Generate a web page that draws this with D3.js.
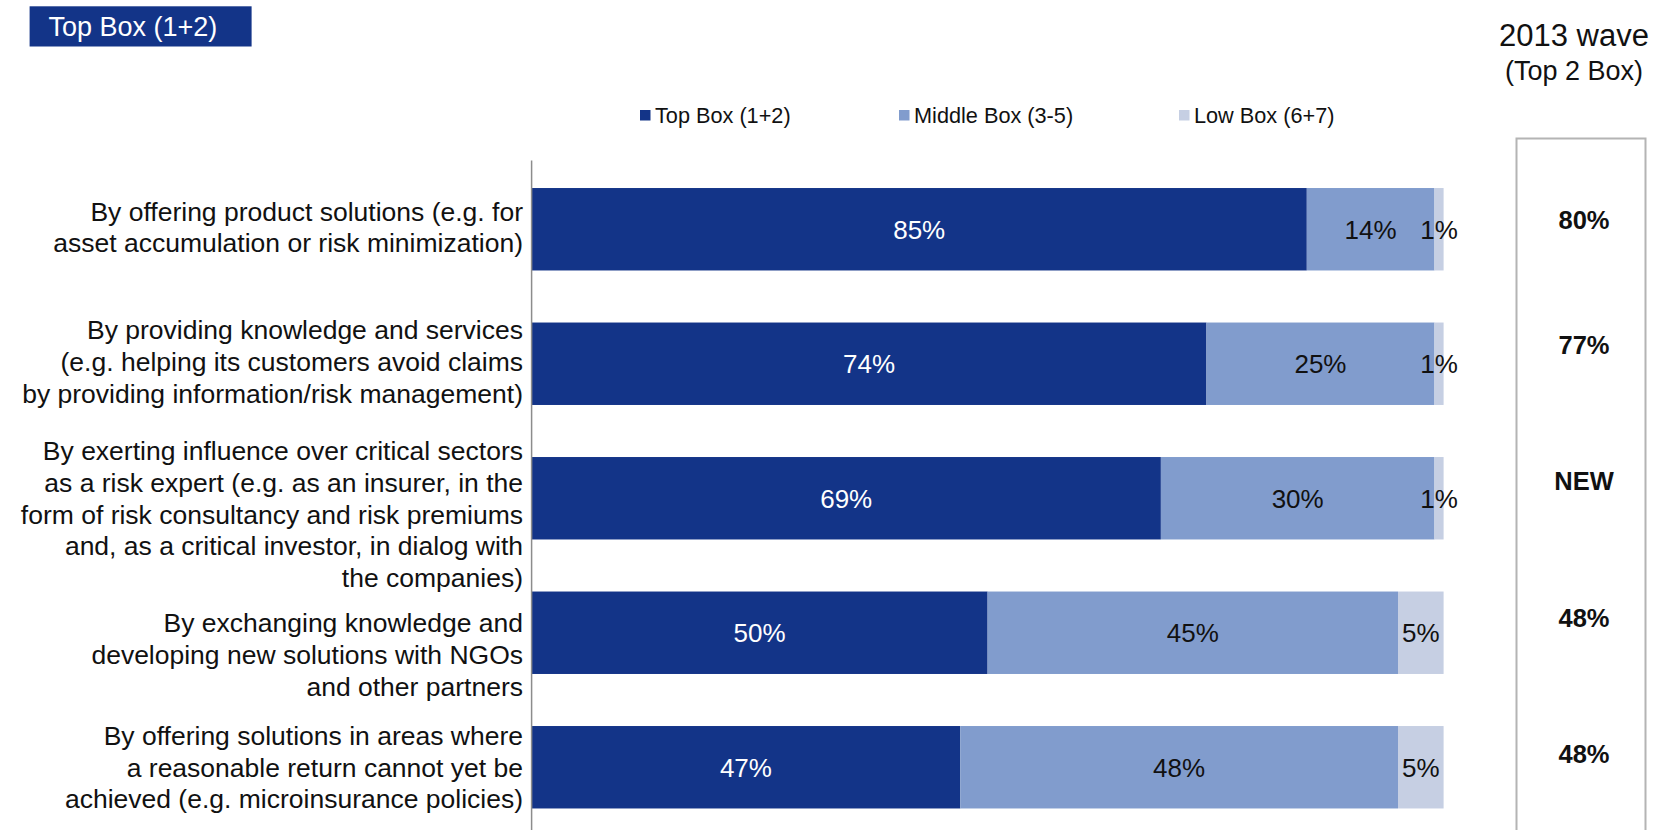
<!DOCTYPE html>
<html>
<head>
<meta charset="utf-8">
<script src="https://cdn.jsdelivr.net/npm/d3@7"></script>
<style>
  html, body { margin: 0; padding: 0; background: #fff; }
  svg { display: block; font-family: "Liberation Sans", Arial, sans-serif; }
</style>
</head>
<body>
<svg id="chart" width="1657" height="830"></svg>
<script>
// Statements, one entry per line of the label
const categories = [
  ["By offering product solutions (e.g. for", "asset accumulation or risk minimization)"],
  ["By providing knowledge and services", "(e.g. helping its customers avoid claims", "by providing information/risk management)"],
  ["By exerting influence over critical sectors", "as a risk expert (e.g. as an insurer, in the", "form of risk consultancy and risk premiums", "and, as a critical investor, in dialog with", "the companies)"],
  ["By exchanging knowledge and", "developing new solutions with NGOs", "and other partners"],
  ["By offering solutions in areas where", "a reasonable return cannot yet be", "achieved (e.g. microinsurance policies)"]
];

const seriesNames = ["Top Box (1+2)", "Middle Box (3-5)", "Low Box (6+7)"];
const topBox    = [85, 74, 69, 50, 47];
const middleBox = [14, 25, 30, 45, 48];
const lowBox    = [1, 1, 1, 5, 5];

// Previous wave comparison (Top 2 Box)
const wave2013 = ["80%", "77%", "NEW", "48%", "48%"];

const colors = ["#133488", "#819ccd", "#c6cfe3"];
const labelColors = ["#ffffff", "#111111", "#111111"];

const svg = d3.select("#chart");

// Build stacked data
const rows = categories.map((c, i) => ({ idx: i, top: topBox[i], middle: middleBox[i], low: lowBox[i] }));
const keys = ["top", "middle", "low"];
const stacked = d3.stack().keys(keys)(rows);

const x = d3.scaleLinear().domain([0, 100]).range([531.6, 1443.6]);
const y = d3.scaleBand()
  .domain(d3.range(categories.length))
  .range([162, 834.5])
  .paddingInner(0.387)
  .paddingOuter(0.1935);

// Header tag
svg.append("rect").attr("x", 29.6).attr("y", 6.3).attr("width", 222).attr("height", 40.2).attr("fill", "#133488");
svg.append("text").attr("x", 48.5).attr("y", 36).attr("fill", "#fff").attr("font-size", 27).text("Top Box (1+2)");

// Right-hand column heading
svg.append("text").attr("x", 1649).attr("y", 46).attr("text-anchor", "end").attr("font-size", 31).attr("fill", "#111").text("2013 wave");
svg.append("text").attr("x", 1643).attr("y", 80).attr("text-anchor", "end").attr("font-size", 27).attr("fill", "#111").text("(Top 2 Box)");

// Legend
const legendX = [640, 899, 1179];
const legend = svg.append("g");
seriesNames.forEach((name, i) => {
  legend.append("rect").attr("x", legendX[i]).attr("y", 110).attr("width", 10.5).attr("height", 10.5).attr("fill", colors[i]);
  legend.append("text").attr("x", legendX[i] + 15).attr("y", 122.5).attr("font-size", 21.7).attr("fill", "#111").text(name);
});

// Comparison column frame
svg.append("path")
  .attr("d", "M1516.5,835V138.5H1645.5V835")
  .attr("fill", "none").attr("stroke", "#b4b4b4").attr("stroke-width", 2);

// Stacked bars
const layers = svg.append("g").selectAll("g").data(stacked).join("g").attr("fill", (d, i) => colors[i]);
layers.selectAll("rect").data(d => d).join("rect")
  .attr("x", d => x(d[0]))
  .attr("width", d => x(d[1]) - x(d[0]))
  .attr("y", d => y(d.data.idx))
  .attr("height", y.bandwidth());

// Segment value labels
const labelLayers = svg.append("g").selectAll("g").data(stacked).join("g")
  .attr("fill", (d, i) => labelColors[i]);
labelLayers.selectAll("text").data(d => d).join("text")
  .attr("x", d => (x(d[0]) + x(d[1])) / 2)
  .attr("y", d => y(d.data.idx) + y.bandwidth() / 2)
  .attr("dy", "0.36em")
  .attr("text-anchor", "middle")
  .attr("font-size", 26)
  .text(d => (d[1] - d[0]) + "%");

// Category axis line
svg.append("line").attr("x1", 531.6).attr("x2", 531.6).attr("y1", 160.6).attr("y2", 830)
  .attr("stroke", "#8c8c8c").attr("stroke-width", 1.5);

// Category labels (multi-line, right aligned)
const lineH = 31.7;
const labelNudge = [-2, -2, 16, 22, 0];
const catG = svg.append("g").attr("font-size", 26.5).attr("fill", "#111").attr("text-anchor", "end");
categories.forEach((lines, i) => {
  const cy = y(i) + y.bandwidth() / 2 + labelNudge[i];
  const first = cy - (lines.length - 1) * lineH / 2;
  const t = catG.append("text");
  lines.forEach((ln, j) => {
    t.append("tspan").attr("x", 523).attr("y", first + j * lineH).attr("dy", "0.35em").text(ln);
  });
});

// 2013 wave values
const waveNudge = [-9, -19, -17, -15, -13];
svg.append("g").selectAll("text").data(wave2013).join("text")
  .attr("x", 1584)
  .attr("y", (d, i) => y(i) + y.bandwidth() / 2 + waveNudge[i])
  .attr("dy", "0.36em")
  .attr("text-anchor", "middle")
  .attr("font-size", 25.5)
  .attr("font-weight", "bold")
  .attr("fill", "#111")
  .text(d => d);
</script>
</body>
</html>
